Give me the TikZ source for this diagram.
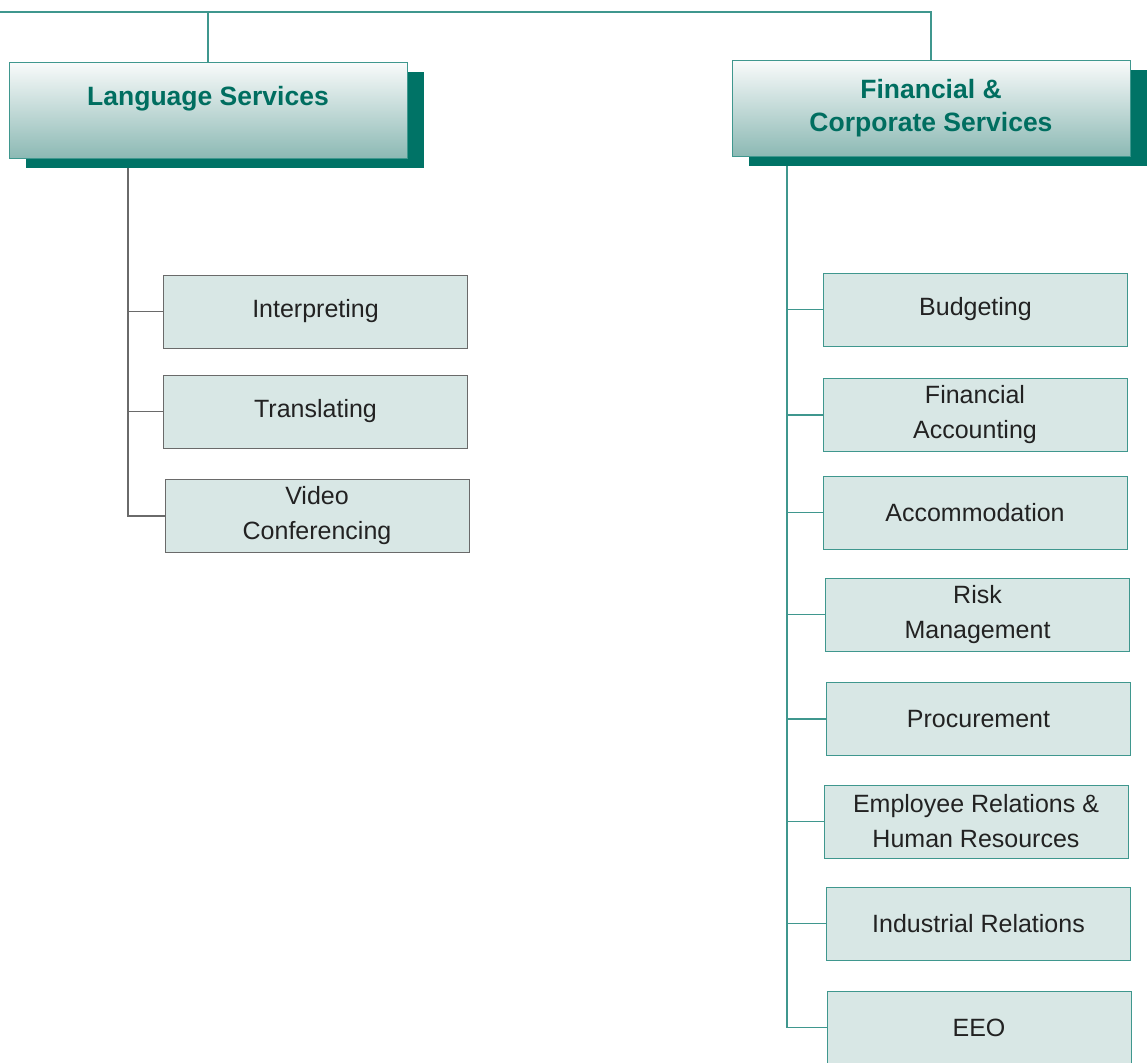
\documentclass[tikz,border=0pt]{standalone}
\usepackage{fontspec}
\setmainfont{Liberation Sans}
\usetikzlibrary{shadows,backgrounds}
\definecolor{tealtext}{HTML}{006E60}
\definecolor{shadowc}{HTML}{007366}
\definecolor{subfill}{HTML}{D8E7E5}
\definecolor{tealline}{HTML}{3F978E}
\definecolor{grayline}{HTML}{6A6A6A}
\definecolor{darktext}{HTML}{222222}
\definecolor{gradtop}{HTML}{F8FAFA}
\definecolor{gradbot}{HTML}{8CB9B4}
\tikzset{
  headbox/.style={draw=tealline, line width=1pt, top color=gradtop, bottom color=gradbot,
    minimum width=398pt, minimum height=95pt, inner sep=0pt, align=center,
    text=tealtext, font=\fontsize{26.5}{33}\selectfont\bfseries,
    drop shadow={shadow xshift=17pt, shadow yshift=-9.5pt, fill=shadowc, opacity=1, shadow scale=1}},
  subbox/.style={draw=tealline, line width=1pt, fill=subfill, minimum width=304pt,
    minimum height=73pt, inner sep=0pt, align=center, text=darktext,
    font=\fontsize{25}{35}\selectfont},
  subboxL/.style={subbox, draw=grayline},
  connR/.style={draw=tealline, line width=1.3pt},
  connL/.style={draw=grayline, line width=1.3pt}
}
\begin{document}
\begin{tikzpicture}[x=1pt,y=-1pt]
\useasboundingbox (0,0) rectangle (1147,1062);
% header boxes
\node[headbox] (lang) at (208,110.5) {Language Services\\[-3pt]~};
\node[headbox] (fin) at (931,108.5) {Financial \&\\Corporate Services};
% left children
\node[subboxL] (interp) at (315.5,311.5) {Interpreting};
\node[subboxL] (transl) at (315.5,411.5) {Translating};
\node[subboxL] (video) at (317,516) {Video\\Conferencing};
% right children
\node[subbox] (budget) at (975.5,309.5) {Budgeting};
\node[subbox] (finacc) at (975,415) {Financial\\Accounting};
\node[subbox] (accom) at (975,512.5) {Accommodation};
\node[subbox] (risk) at (977.5,614.5) {Risk\\Management};
\node[subbox] (procure) at (978.5,719) {Procurement};
\node[subbox] (employee) at (976,821.5) {Employee Relations \&\\Human Resources};
\node[subbox] (indus) at (978.5,923.5) {Industrial Relations};
\node[subbox] (eeo) at (979,1027.5) {EEO};
% connectors
\coordinate (topleft) at (0,12);
\coordinate (ltrunk) at (128,158);
\coordinate (rtrunk) at (787,156);
\begin{scope}[on background layer]
\draw[connR] (topleft) -| (fin.north);
\draw[connR] (lang.north) -- (lang.north |- topleft);
\draw[connL] (ltrunk) |- (interp.west);
\draw[connL] (ltrunk) |- (transl.west);
\draw[connL] (ltrunk) |- (video.west);
\draw[connR] (rtrunk) |- (budget.west);
\draw[connR] (rtrunk) |- (finacc.west);
\draw[connR] (rtrunk) |- (accom.west);
\draw[connR] (rtrunk) |- (risk.west);
\draw[connR] (rtrunk) |- (procure.west);
\draw[connR] (rtrunk) |- (employee.west);
\draw[connR] (rtrunk) |- (indus.west);
\draw[connR] (rtrunk) |- (eeo.west);
\end{scope}
\end{tikzpicture}
\end{document}
